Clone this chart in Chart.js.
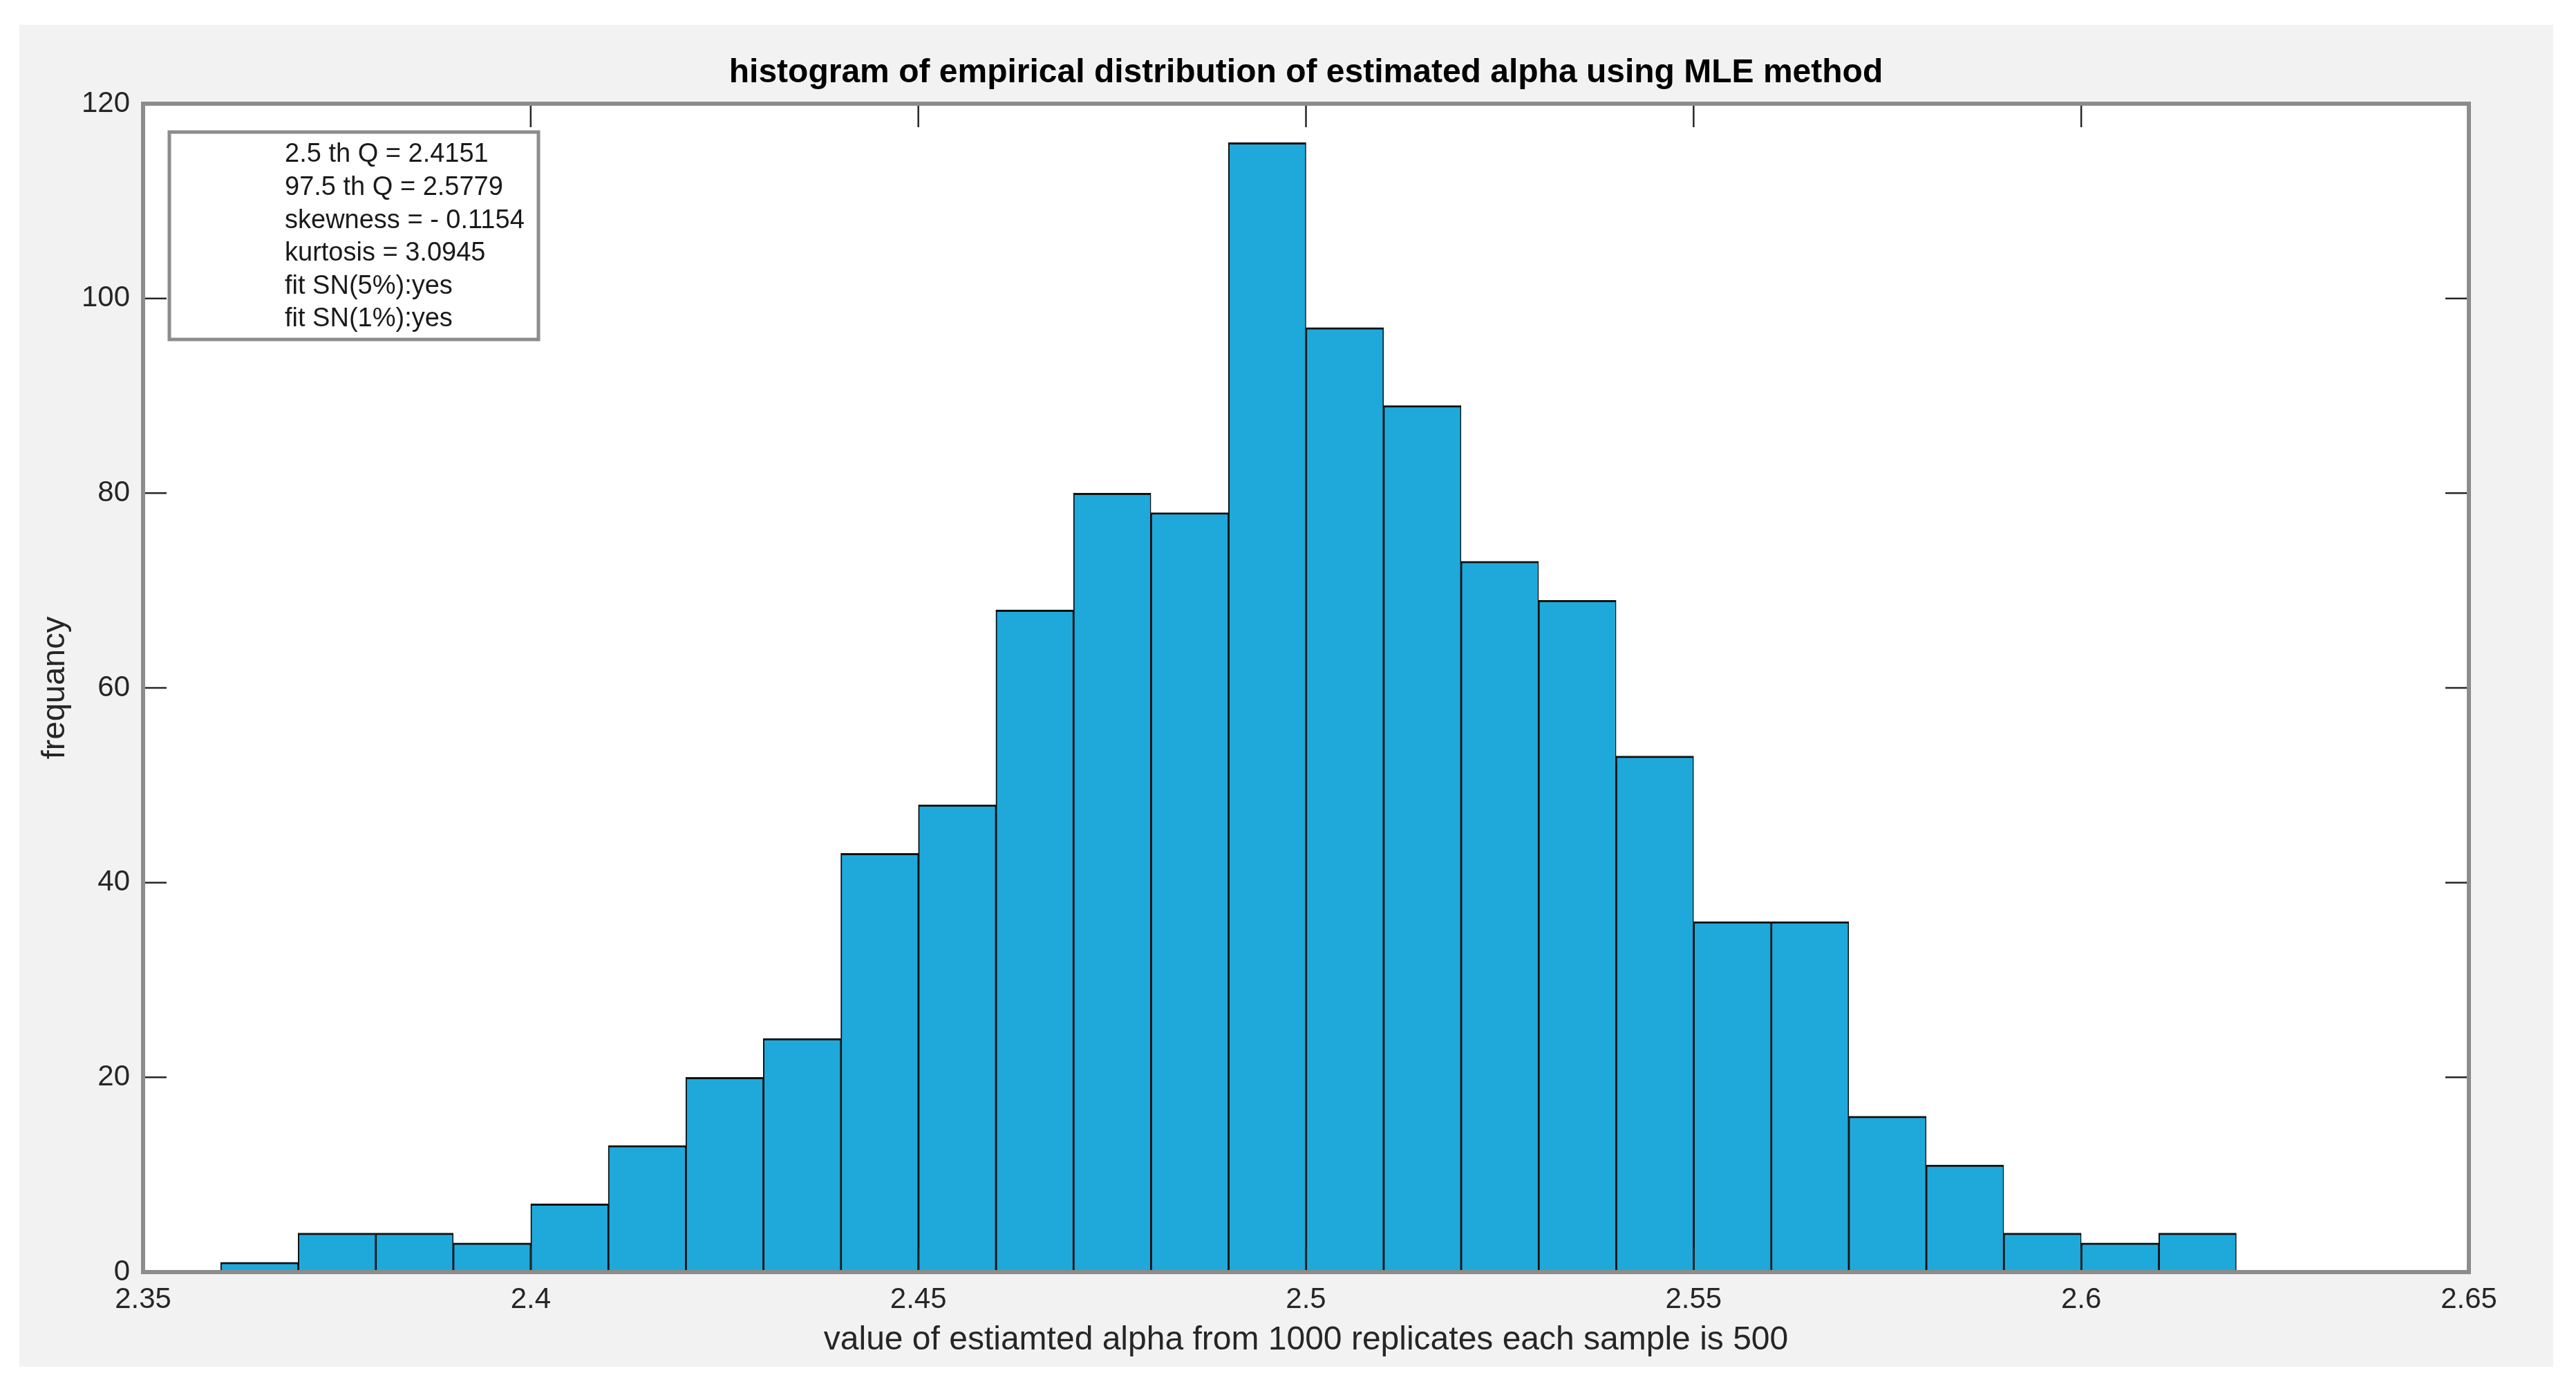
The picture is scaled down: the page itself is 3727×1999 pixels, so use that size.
<!DOCTYPE html>
<html>
<head>
<meta charset="utf-8">
<script src="https://cdn.jsdelivr.net/npm/chart.js@4.4.0/dist/chart.umd.min.js"></script>
<style>
  html, body { margin: 0; padding: 0; background: #ffffff; }
  canvas { display: block; }
</style>
</head>
<body>
<canvas id="c" width="3727" height="1999" style="width:3727px;height:1999px"></canvas>
<script>
// ---- data ----
const binCenters = [2.365, 2.375, 2.385, 2.395, 2.405, 2.415, 2.425, 2.435, 2.445, 2.455,
                    2.465, 2.475, 2.485, 2.495, 2.505, 2.515, 2.525, 2.535, 2.545, 2.555,
                    2.565, 2.575, 2.585, 2.595, 2.605, 2.615];
const counts = [1, 4, 4, 3, 7, 13, 20, 24, 43, 48,
                68, 80, 78, 116, 97, 89, 73, 69, 53, 36,
                36, 16, 11, 4, 3, 4];
const xTickValues = [2.35, 2.4, 2.45, 2.5, 2.55, 2.6, 2.65];
const yTickValues = [0, 20, 40, 60, 80, 100, 120];
const statsLines = [
  "2.5 th Q = 2.4151",
  "97.5 th Q = 2.5779",
  "skewness = - 0.1154",
  "kurtosis = 3.0945",
  "fit SN(5%):yes",
  "fit SN(1%):yes"
];
const titleText = "histogram of empirical distribution of estimated alpha using MLE method";
const xTitle = "value of estiamted alpha from 1000 replicates each sample is 500";
const yTitle = "frequancy";

const FONT = "'Liberation Sans', Arial, Helvetica, sans-serif";
const TXT = '#262626';

const framePlugin = {
  id: 'frame',
  beforeDraw(chart) {
    const ctx = chart.ctx;
    const a = chart.chartArea;
    ctx.save();
    ctx.fillStyle = '#ffffff';
    ctx.fillRect(0, 0, chart.width, chart.height);
    ctx.fillStyle = '#f2f2f2';
    ctx.fillRect(28, 36, 3694 - 28, 1977 - 36);
    ctx.fillStyle = '#ffffff';
    ctx.fillRect(a.left, a.top, a.right - a.left, a.bottom - a.top);
    ctx.restore();
  },
  afterDatasetsDraw(chart) {
    const ctx = chart.ctx;
    const a = chart.chartArea;
    const xs = chart.scales.x, ys = chart.scales.y;
    const TL = 34;
    ctx.save();
    ctx.strokeStyle = '#262626';
    ctx.lineWidth = 2.5;
    ctx.beginPath();
    xs.ticks.forEach(t => {
      const px = xs.getPixelForValue(t.value);
      ctx.moveTo(px, a.bottom); ctx.lineTo(px, a.bottom - TL);
      ctx.moveTo(px, a.top); ctx.lineTo(px, a.top + TL);
    });
    ys.ticks.forEach(t => {
      const py = ys.getPixelForValue(t.value);
      ctx.moveTo(a.left, py); ctx.lineTo(a.left + TL, py);
      ctx.moveTo(a.right, py); ctx.lineTo(a.right - TL, py);
    });
    ctx.stroke();
    // axes box
    ctx.strokeStyle = '#8c8c8c';
    ctx.lineWidth = 6;
    ctx.strokeRect(a.left, a.top, a.right - a.left, a.bottom - a.top);
    // stats annotation box
    const bx = a.left + 38, by = a.top + 41, bw = 534, bh = 300;
    ctx.fillStyle = '#ffffff';
    ctx.fillRect(bx, by, bw, bh);
    ctx.strokeStyle = '#8c8c8c';
    ctx.lineWidth = 5;
    ctx.strokeRect(bx, by, bw, bh);
    ctx.fillStyle = '#1a1a1a';
    ctx.font = "38px " + FONT;
    ctx.textAlign = 'left';
    ctx.textBaseline = 'middle';
    statsLines.forEach((s, i) => {
      ctx.fillText(s, bx + 167, by + 33 + i * 47.6);
    });
    ctx.restore();
  }
};

new Chart(document.getElementById('c'), {
  type: 'bar',
  data: {
    datasets: [{
      xAxisID: 'x',
      yAxisID: 'y',
      data: binCenters.map((x, i) => ({ x: x, y: counts[i] })),
      backgroundColor: '#1fa9db',
      borderColor: '#111111',
      borderWidth: { top: 3, left: 2, right: 1.5, bottom: 0 },
      borderSkipped: false,
      barPercentage: 1.0,
      categoryPercentage: 1.0
    }]
  },
  options: {
    responsive: false,
    devicePixelRatio: 1,
    animation: false,
    layout: { padding: { left: 0, right: 155, top: 0, bottom: 0 } },
    plugins: {
      legend: { display: false },
      tooltip: { enabled: false },
      title: { display: false }
    },
    scales: {
      x: {
        type: 'linear',
        position: 'bottom',
        min: 2.35,
        max: 2.65,
        offset: false,
        grid: { display: false, drawTicks: false },
        border: { display: false },
        afterBuildTicks: s => { s.ticks = xTickValues.map(v => ({ value: v })); },
        afterFit: s => { s.height = 159; },
        ticks: {
          color: TXT,
          padding: 15,
          maxRotation: 0,
          autoSkip: false,
          font: { family: FONT, size: 42, lineHeight: 1.2 },
          callback: v => String(+(+v).toFixed(2))
        },
        title: {
          display: true,
          text: xTitle,
          color: TXT,
          font: { family: FONT, size: 48, lineHeight: 1.2 },
          padding: { top: 0, bottom: 31 }
        }
      },
      xTop: {
        type: 'linear',
        position: 'top',
        min: 2.35,
        max: 2.65,
        offset: false,
        grid: { display: false, drawTicks: false },
        border: { display: false },
        ticks: { display: false },
        afterFit: s => { s.height = 150; },
        title: {
          display: true,
          text: titleText,
          color: '#000000',
          font: { family: FONT, size: 48, weight: 'bold', lineHeight: 1.2 },
          padding: { top: 77, bottom: 0 }
        }
      },
      y: {
        min: 0,
        max: 120,
        grid: { display: false, drawTicks: false },
        border: { display: false },
        afterBuildTicks: s => { s.ticks = yTickValues.map(v => ({ value: v })); },
        afterFit: s => { s.width = 207; },
        ticks: {
          color: TXT,
          padding: 19,
          autoSkip: false,
          font: { family: FONT, size: 42, lineHeight: 1.2 },
          callback: v => String(v)
        },
        title: {
          display: true,
          text: yTitle,
          color: TXT,
          font: { family: FONT, size: 47, lineHeight: 1.2 },
          padding: { top: 52, bottom: 0 }
        }
      }
    }
  },
  plugins: [framePlugin]
});
</script>
</body>
</html>
